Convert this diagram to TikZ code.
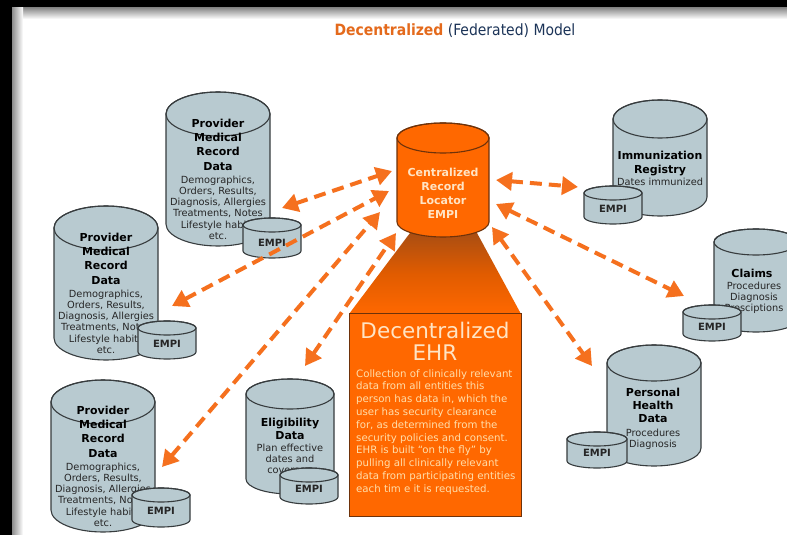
\documentclass[tikz,border=0pt]{standalone}
\usepackage{fontspec}
\setmainfont{DejaVu Sans}
\newfontfamily\condfont{DejaVu Sans Condensed}
\usetikzlibrary{arrows.meta}
\definecolor{cylfill}{RGB}{184,202,208}
\definecolor{cylline}{RGB}{55,60,62}
\definecolor{orng}{RGB}{255,104,0}
\definecolor{orngline}{RGB}{110,50,10}
\definecolor{orngdark}{RGB}{170,78,18}
\definecolor{arrowc}{RGB}{245,112,30}
\definecolor{cream}{RGB}{255,228,196}
\definecolor{creambody}{RGB}{255,222,170}
\definecolor{navy}{RGB}{28,52,88}
\definecolor{titleor}{RGB}{228,106,28}
\newcommand{\mycyl}[7]{%
  \path[fill=#6,draw=#7,line width=1.1pt] (#1-#3,#2+#4) -- (#1-#3,#5-#4)
    arc[start angle=180,end angle=0,x radius=#3,y radius=#4] -- (#1+#3,#2+#4)
    arc[start angle=0,end angle=-180,x radius=#3,y radius=#4] -- cycle;
  \draw[draw=#7,line width=1.1pt] (#1,#2+#4) ellipse[x radius=#3,y radius=#4];
}
% multi-line nodes are anchored at the baseline of their LAST line
\tikzset{
  ttl/.style={font=\fontsize{11}{14.3}\selectfont\bfseries, text=black, align=center, anchor=base, inner sep=0pt},
  bdy/.style={font=\fontsize{9.8}{11.3}\selectfont, text=black!85, align=center, anchor=base, inner sep=0pt},
  empi/.style={font=\fontsize{10}{12}\selectfont\bfseries, text=black!85, anchor=base, inner sep=0pt},
  conn/.style={draw=arrowc, line width=4pt, dash pattern=on 12pt off 7pt,
    {Triangle[length=16pt,width=18pt]}-{Triangle[length=16pt,width=18pt]}},
}
\begin{document}
\begin{tikzpicture}[x=1pt,y=-1pt]
\useasboundingbox (0,0) rectangle (787,535);
% frame
\fill[black] (0,0) rectangle (787,535);
\fill[white] (12,8) rectangle (787,535);
\fill[top color=black!45, bottom color=white] (12,8) rectangle (787,19);
\fill[left color=black!45, right color=white] (12,8) rectangle (23,535);
\fill[white] (23,19) rectangle (787,535);
% title
\node[anchor=base, inner sep=0pt, font=\condfont\fontsize{15.5}{17}\selectfont] (title) at (455,36)
  {\textcolor{titleor}{\bfseries Decentralized} \textcolor{navy}{(Federated) Model}};
% trapezoid and EHR box
\shade[top color=orngdark, bottom color=orng, middle color=orng!88!black] (410,233) -- (477,233) -- (521,314) -- (349,314) -- cycle;
\node[draw=orngline, line width=1pt, fill=orng, minimum width=172pt, minimum height=203pt, inner sep=0pt] (ehr) at (435,414.5) {};
\node[anchor=base, inner sep=0pt, text=cream, align=center, font=\fontsize{21.5}{22}\selectfont] (ehrtitle) at (435,360) {Decentralized\\EHR};
\node[anchor=base west, inner sep=0pt, text=creambody, align=left, font=\fontsize{10.2}{12.8}\selectfont] (ehrtext) at (356,492.2)
  {Collection of clinically relevant\\data from  all entities this\\person has  data in, which the\\user has security clearance\\for, as determined from the\\security policies and consent.\\EHR is built “on the fly” by\\pulling all clinically relevant\\data from participating entities\\each tim e it is requested.};
% central cylinder
\mycyl{443}{123}{46}{15}{237}{orng}{orngline}
\node[ttl, text=cream, font=\fontsize{11}{14}\selectfont\bfseries] (central) at (443,218) {Centralized\\Record\\Locator\\EMPI};
% provider 1
\mycyl{218}{92}{52}{22}{246}{cylfill}{cylline}
\node[ttl] (p1t) at (218,170) {Provider\\Medical\\Record\\Data};
\node[bdy] (p1b) at (218,239.5) {Demographics,\\Orders, Results,\\Diagnosis, Allergies\\Treatments, Notes\\Lifestyle habits\\etc.};
\mycyl{272}{218}{29}{7}{258}{cylfill}{cylline}
\node[empi] (e1) at (272,246) {EMPI};
% provider 2
\mycyl{106}{206}{52}{22}{360}{cylfill}{cylline}
\node[ttl] (p2t) at (106,284) {Provider\\Medical\\Record\\Data};
\node[bdy] (p2b) at (106,353.5) {Demographics,\\Orders, Results,\\Diagnosis, Allergies\\Treatments, Notes\\Lifestyle habits\\etc.};
\mycyl{167}{321}{29}{7}{359}{cylfill}{cylline}
\node[empi] (e2) at (167,347) {EMPI};
% provider 3
\mycyl{103}{380}{52}{22}{532}{cylfill}{cylline}
\node[ttl] (p3t) at (103,457) {Provider\\Medical\\Record\\Data};
\node[bdy] (p3b) at (103,526.5) {Demographics,\\Orders, Results,\\Diagnosis, Allergies\\Treatments, Notes\\Lifestyle habits\\etc.};
\mycyl{161}{488}{29}{7}{527}{cylfill}{cylline}
\node[empi] (e3) at (161,514) {EMPI};
% eligibility
\mycyl{290}{379}{44}{15}{494}{cylfill}{cylline}
\node[ttl, font=\fontsize{11}{13}\selectfont\bfseries] (elt) at (290,439) {Eligibility\\Data};
\node[bdy] (elb) at (290,473.6) {Plan effective\\dates and\\coverage};
\mycyl{309}{468}{29}{7}{504}{cylfill}{cylline}
\node[empi] (e4) at (309,492) {EMPI};
% immunization
\mycyl{660}{100}{47}{19}{216}{cylfill}{cylline}
\node[ttl] (imt) at (660,173.3) {Immunization\\Registry};
\node[bdy] (imb) at (660,185) {Dates immunized};
\mycyl{613}{186}{29}{7}{224}{cylfill}{cylline}
\node[empi] (e5) at (613,212) {EMPI};
% claims
\mycyl{756}{229}{42}{13}{332}{cylfill}{cylline}
\node[ttl] (clt) at (752,277) {Claims};
\node[bdy, font=\fontsize{9.8}{11}\selectfont] (clb) at (754,311) {Procedures\\Diagnosis\\Presciptions};
\mycyl{712}{305}{29}{7}{341}{cylfill}{cylline}
\node[empi] (e6) at (712,330) {EMPI};
% personal health
\mycyl{654}{345}{47}{18}{466}{cylfill}{cylline}
\node[ttl, font=\fontsize{11}{13.3}\selectfont\bfseries] (pht) at (653,422.6) {Personal\\Health\\Data};
\node[bdy, font=\fontsize{9.8}{11}\selectfont] (phb) at (653,447) {Procedures\\Diagnosis};
\mycyl{597}{432}{30}{7}{468}{cylfill}{cylline}
\node[empi] (e7) at (597,456) {EMPI};
% connector end points
\coordinate (a1s) at (282,208); \coordinate (a1e) at (392,171);
\coordinate (a2s) at (172,306); \coordinate (a2e) at (389,191);
\coordinate (a3s) at (162,467); \coordinate (a3e) at (380,212);
\coordinate (a4s) at (305,366); \coordinate (a4e) at (396,233);
\coordinate (a5s) at (496,180); \coordinate (a5e) at (578,187);
\coordinate (a6s) at (496,204); \coordinate (a6e) at (684,296);
\coordinate (a7s) at (492,227); \coordinate (a7e) at (592,366);
\draw[conn] (a1s) -- (a1e);
\draw[conn] (a2s) -- (a2e);
\draw[conn] (a3s) -- (a3e);
\draw[conn] (a4s) -- (a4e);
\draw[conn] (a5s) -- (a5e);
\draw[conn] (a6s) -- (a6e);
\draw[conn] (a7s) -- (a7e);
\end{tikzpicture}
\end{document}
